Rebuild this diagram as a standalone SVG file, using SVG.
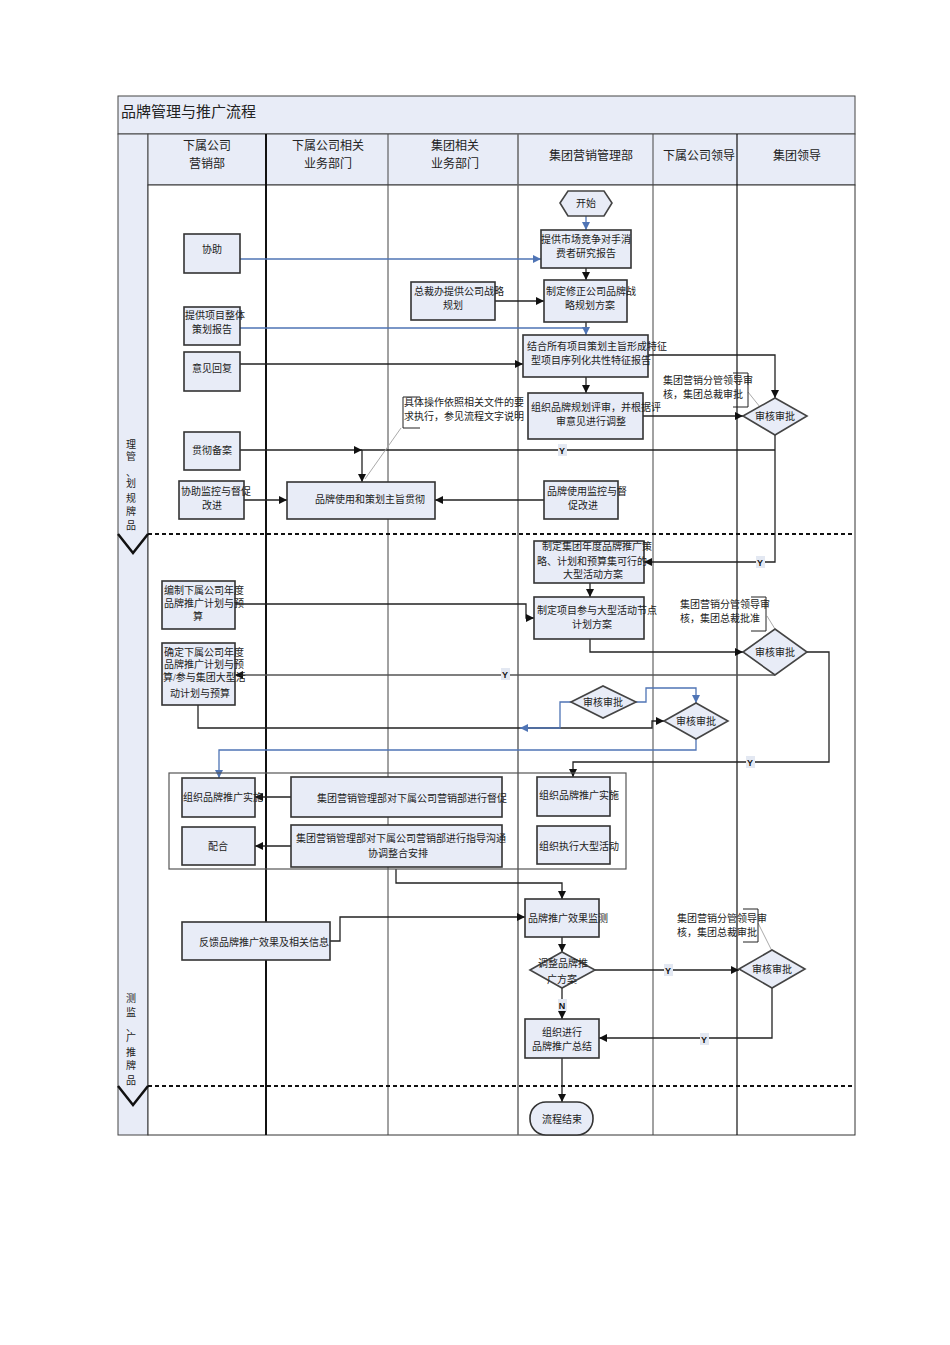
<svg xmlns="http://www.w3.org/2000/svg" width="950" height="1345" viewBox="0 0 950 1345">
<style>
.bg{fill:#ffffff}
.band{fill:#e8ecf7;stroke:#444;stroke-width:1}
.box{fill:#e8ecf7;stroke:#333;stroke-width:1.6}
.dia{fill:#e8ecf7;stroke:#444;stroke-width:1.6}
.t{font-family:"Liberation Serif","Noto Sans CJK SC",serif;font-size:10px;fill:#222}
.h{font-family:"Liberation Serif","Noto Sans CJK SC",serif;font-size:12px;fill:#222;text-anchor:middle}
.m{text-anchor:middle}
.ln{fill:none;stroke:#222;stroke-width:1.3}
.bl{fill:none;stroke:#4f74b5;stroke-width:1.3}
.gr{fill:none;stroke:#aaa;stroke-width:1}
.br{fill:none;stroke:#222;stroke-width:1}
.yl{fill:#e3e8f2}
.yt{font-family:"Liberation Sans",sans-serif;font-size:9px;font-weight:bold;fill:#111;text-anchor:middle}
</style>
<defs>
<marker id="a" viewBox="0 0 10 10" refX="10" refY="5" markerWidth="8" markerHeight="8" markerUnits="userSpaceOnUse" orient="auto"><path d="M0,0 L10,5 L0,10 z" fill="#111"/></marker>
<marker id="b" viewBox="0 0 10 10" refX="10" refY="5" markerWidth="8" markerHeight="8" markerUnits="userSpaceOnUse" orient="auto"><path d="M0,0 L10,5 L0,10 z" fill="#4f74b5"/></marker>
</defs>
<rect class="bg" x="0" y="0" width="950" height="1345"/>

<g id="frame">
<rect x="118" y="96" width="737" height="38" class="band"/>
<text x="121" y="117" font-family="Liberation Serif,'Noto Sans CJK SC',serif" font-size="15" fill="#222">品牌管理与推广流程</text>
<rect x="118" y="134" width="30" height="1001" class="band"/>
<rect x="148" y="134" width="707" height="51" class="band"/>
<rect x="148" y="185" width="707" height="950" fill="#fff" stroke="#333" stroke-width="1"/>
<line x1="266" y1="134" x2="266" y2="1135" stroke="#111" stroke-width="2"/>
<line x1="388" y1="134" x2="388" y2="1135" stroke="#444" stroke-width="1"/>
<line x1="518" y1="134" x2="518" y2="1135" stroke="#666" stroke-width="1.5"/>
<line x1="653" y1="134" x2="653" y2="1135" stroke="#444" stroke-width="1"/>
<line x1="737" y1="134" x2="737" y2="1135" stroke="#111" stroke-width="1.2"/>
<text class="h" x="207" y="150">下属公司</text>
<text class="h" x="207" y="168">营销部</text>
<text class="h" x="328" y="150">下属公司相关</text>
<text class="h" x="328" y="168">业务部门</text>
<text class="h" x="455" y="150">集团相关</text>
<text class="h" x="455" y="168">业务部门</text>
<text class="h" x="591" y="160">集团营销管理部</text>
<text class="h" x="699" y="160">下属公司领导</text>
<text class="h" x="797" y="160">集团领导</text>
<line x1="148" y1="534" x2="855" y2="534" stroke="#111" stroke-width="2" stroke-dasharray="4,3"/>
<line x1="148" y1="1086" x2="855" y2="1086" stroke="#111" stroke-width="2" stroke-dasharray="4,3"/>
<path d="M118,534 L133,553 L148,534" fill="none" stroke="#111" stroke-width="2.5"/>
<path d="M118,1086 L133,1105 L148,1086" fill="none" stroke="#111" stroke-width="2.5"/>
<g class="t m">
<text x="131" y="448">理</text><text x="131" y="460">管</text><text x="131" y="476">、</text><text x="131" y="487">划</text><text x="131" y="502">规</text><text x="131" y="515">牌</text><text x="131" y="529">品</text>
<text x="131" y="1002">测</text><text x="131" y="1016">监</text><text x="131" y="1031">、</text><text x="131" y="1041">广</text><text x="131" y="1056">推</text><text x="131" y="1069">牌</text><text x="131" y="1084">品</text>
</g>
</g>

<g id="connectors">
<path class="bl" d="M586,216 V230" marker-end="url(#b)"/>
<path class="bl" d="M240,259 H541" marker-end="url(#b)"/>
<path class="ln" d="M586,268 V280" marker-end="url(#a)"/>
<path class="ln" d="M495,301 H544" marker-end="url(#a)"/>
<path class="ln" d="M586,322 V330"/>
<path class="bl" d="M240,328 H586 V335" marker-end="url(#b)"/>
<path class="ln" d="M240,364 H523" marker-end="url(#a)"/>
<path class="ln" d="M586,377 V393" marker-end="url(#a)"/>
<path class="ln" d="M648,355 H775 V398" marker-end="url(#a)"/>
<path class="ln" d="M643,416 H743" marker-end="url(#a)"/>
<path class="ln" d="M775,435 V562 H644" marker-end="url(#a)"/>
<path class="ln" d="M775,450 H362 V482" marker-end="url(#a)"/>
<path class="ln" d="M240,450 H362" marker-end="url(#a)"/>
<path class="ln" d="M544,500 H435" marker-end="url(#a)"/>
<path class="ln" d="M244,500 H287" marker-end="url(#a)"/>
<path class="ln" d="M590,583 V597" marker-end="url(#a)"/>
<path class="ln" d="M235,604 H526 V618 H534" marker-end="url(#a)"/>
<path class="ln" d="M590,639 V652 H743" marker-end="url(#a)"/>
<path d="M775,675 H235" fill="none" stroke="#555" stroke-width="1.3" marker-end="url(#a)"/>
<path class="ln" d="M807,652 H829 V762 H573 V777" marker-end="url(#a)"/>
<path class="ln" d="M198,705 V728 H652 V721 H664" marker-end="url(#a)"/>
<path class="bl" d="M636,702 H646 V688 H696 V703" marker-end="url(#b)"/>
<path class="bl" d="M571,702 H560 V728 H520" marker-end="url(#b)"/>
<path class="bl" d="M696,739 V750 H219 V778" marker-end="url(#b)"/>
<path class="ln" d="M291,797 H255" marker-end="url(#a)"/>
<path class="ln" d="M291,846 H255" marker-end="url(#a)"/>
<path class="ln" d="M396,869 V883 H562 V899" marker-end="url(#a)"/>
<path class="ln" d="M330,941 H340 V917 H525" marker-end="url(#a)"/>
<path class="ln" d="M562,937 V952" marker-end="url(#a)"/>
<path class="ln" d="M595,970 H739" marker-end="url(#a)"/>
<path class="ln" d="M562,988 V1019" marker-end="url(#a)"/>
<path class="ln" d="M772,988 V1038 H599" marker-end="url(#a)"/>
<path class="ln" d="M562,1058 V1102" marker-end="url(#a)"/>
<path class="gr" d="M401,428 L365,479"/>
<path class="gr" d="M748,392 L760,407"/>
<path class="gr" d="M767,616 L775,629"/>
<path class="gr" d="M758,923 L772,951"/>
<rect class="yl" x="558" y="444" width="9" height="12"/><text class="yt" x="562" y="454">Y</text>
<rect class="yl" x="756" y="556" width="9" height="12"/><text class="yt" x="760" y="566">Y</text>
<rect class="yl" x="501" y="668" width="9" height="12"/><text class="yt" x="505" y="678">Y</text>
<rect class="yl" x="746" y="756" width="9" height="12"/><text class="yt" x="750" y="766">Y</text>
<rect class="yl" x="664" y="964" width="9" height="12"/><text class="yt" x="668" y="974">Y</text>
<rect class="yl" x="558" y="999" width="9" height="12"/><text class="yt" x="562" y="1009">N</text>
<rect class="yl" x="700" y="1033" width="9" height="12"/><text class="yt" x="704" y="1043">Y</text>
</g>

<g id="n_start"><polygon class="dia" points="560,203 568,191 604,191 612,203 604,216 568,216"/><text class="t m" x="586" y="207">开始</text></g>
<g id="n_market"><rect class="box" x="541" y="230" width="90" height="38"/><text class="t m" x="586" y="243">提供市场竞争对手消</text><text class="t m" x="586" y="257">费者研究报告</text></g>
<g id="n_strategy"><rect class="box" x="544" y="280" width="83" height="42"/><text class="t" x="546" y="295">制定修正公司品牌战</text><text class="t m" x="590" y="309">略规划方案</text></g>
<g id="n_president"><rect class="box" x="411" y="282" width="84" height="38"/><text class="t" x="414" y="295">总裁办提供公司战略</text><text class="t m" x="453" y="309">规划</text></g>
<g id="n_combine"><rect class="box" x="523" y="335" width="125" height="42"/><text class="t" x="527" y="350">结合所有项目策划主旨形成特征</text><text class="t" x="531" y="364">型项目序列化共性特征报告</text></g>
<g id="n_review"><rect class="box" x="528" y="393" width="115" height="46"/><text class="t" x="531" y="411">组织品牌规划评审，并根据评</text><text class="t m" x="591" y="425">审意见进行调整</text></g>
<g id="n_monitor"><rect class="box" x="544" y="481" width="74" height="38"/><text class="t" x="547" y="495">品牌使用监控与督</text><text class="t m" x="583" y="509">促改进</text></g>
<g id="n_implement"><rect class="box" x="287" y="482" width="148" height="37"/><text class="t m" x="370" y="503">品牌使用和策划主旨贯彻</text></g>
<g id="n_help"><rect class="box" x="184" y="234" width="56" height="39"/><text class="t m" x="212" y="253">协助</text></g>
<g id="n_plan"><rect class="box" x="184" y="307" width="56" height="38"/><text class="t" x="185" y="319">提供项目整体</text><text class="t m" x="212" y="333">策划报告</text></g>
<g id="n_reply"><rect class="box" x="184" y="352" width="56" height="39"/><text class="t m" x="212" y="372">意见回复</text></g>
<g id="n_record"><rect class="box" x="184" y="432" width="56" height="38"/><text class="t m" x="212" y="454">贯彻备案</text></g>
<g id="n_assist"><rect class="box" x="179" y="481" width="65" height="38"/><text class="t" x="181" y="495">协助监控与督促</text><text class="t m" x="212" y="509">改进</text></g>
<g id="note1"><path class="br" d="M420,397 H403 V428 H420"/><text class="t" x="404" y="406">具体操作依照相关文件的要</text><text class="t" x="404" y="420">求执行，参见流程文字说明</text></g>
<g id="note2"><path class="br" d="M733,373 H748 V407 H733"/><text class="t" x="663" y="384">集团营销分管领导审</text><text class="t" x="663" y="398">核，集团总裁审批</text></g>
<g id="d1"><polygon class="dia" points="743,416 775,398 807,416 775,435"/><text class="t m" x="775" y="420">审核审批</text></g>

<g id="n_group_plan"><rect class="box" x="534" y="541" width="110" height="42"/><text class="t" x="542" y="550">制定集团年度品牌推广策</text><text class="t" x="537" y="565">略、计划和预算集可行的</text><text class="t m" x="593" y="578">大型活动方案</text></g>
<g id="n_node_plan"><rect class="box" x="534" y="597" width="110" height="42"/><text class="t" x="537" y="614">制定项目参与大型活动节点</text><text class="t m" x="592" y="628">计划方案</text></g>
<g id="n_sub_plan"><rect class="box" x="162" y="581" width="73" height="48"/><text class="t" x="164" y="594">编制下属公司年度</text><text class="t" x="164" y="607">品牌推广计划与预</text><text class="t m" x="198" y="620">算</text></g>
<g id="n_confirm"><rect class="box" x="162" y="643" width="73" height="62"/><text class="t" x="164" y="656">确定下属公司年度</text><text class="t" x="164" y="668">品牌推广计划与预</text><text class="t" x="163" y="681">算/参与集团大型活</text><text class="t m" x="200" y="697">动计划与预算</text></g>
<g id="note3"><path class="br" d="M751,597 H766 V631 H751"/><text class="t" x="680" y="608">集团营销分管领导审</text><text class="t" x="680" y="622">核，集团总裁批准</text></g>
<g id="d2"><polygon class="dia" points="743,652 775,629 807,652 775,675"/><text class="t m" x="775" y="656">审核审批</text></g>
<g id="d3"><polygon class="dia" points="664,721 696,703 728,721 696,739"/><text class="t m" x="696" y="725">审核审批</text></g>
<g id="d4"><polygon class="dia" points="571,702 603,686 636,702 603,718"/><text class="t m" x="603" y="706">审核审批</text></g>

<g id="group3"><rect x="169" y="773" width="457" height="96" fill="none" stroke="#555" stroke-width="1.2"/></g>
<g id="n_org_left"><rect class="box" x="182" y="778" width="73" height="39"/><text class="t" x="183" y="801">组织品牌推广实施</text></g>
<g id="n_cooperate"><rect class="box" x="182" y="827" width="73" height="38"/><text class="t m" x="218" y="850">配合</text></g>
<g id="n_supervise"><rect class="box" x="291" y="777" width="211" height="40"/><text class="t" x="317" y="802">集团营销管理部对下属公司营销部进行督促</text></g>
<g id="n_guide"><rect class="box" x="291" y="825" width="211" height="42"/><text class="t" x="296" y="842">集团营销管理部对下属公司营销部进行指导沟通</text><text class="t m" x="398" y="857">协调整合安排</text></g>
<g id="n_org_right"><rect class="box" x="537" y="777" width="73" height="39"/><text class="t" x="539" y="799">组织品牌推广实施</text></g>
<g id="n_large"><rect class="box" x="537" y="826" width="73" height="38"/><text class="t" x="539" y="850">组织执行大型活动</text></g>
<g id="n_effect"><rect class="box" x="525" y="899" width="74" height="38"/><text class="t" x="528" y="922">品牌推广效果监测</text></g>
<g id="n_feedback"><rect class="box" x="182" y="922" width="148" height="38"/><text class="t" x="199" y="946">反馈品牌推广效果及相关信息</text></g>
<g id="d5"><polygon class="dia" points="530,970 562,952 595,970 562,988"/><text class="t m" x="563" y="967">调整品牌推</text><text class="t m" x="562" y="983">广方案</text></g>
<g id="note4"><path class="br" d="M743,909 H758 V942 H743"/><text class="t" x="677" y="922">集团营销分管领导审</text><text class="t" x="677" y="936">核，集团总裁审批</text></g>
<g id="d6"><polygon class="dia" points="739,969 772,950 805,969 772,988"/><text class="t m" x="772" y="973">审核审批</text></g>
<g id="n_summary"><rect class="box" x="525" y="1019" width="74" height="39"/><text class="t m" x="562" y="1036">组织进行</text><text class="t m" x="562" y="1050">品牌推广总结</text></g>
<g id="n_end"><rect class="box" x="530" y="1102" width="63" height="33" rx="16"/><text class="t m" x="562" y="1123">流程结束</text></g>
</svg>
